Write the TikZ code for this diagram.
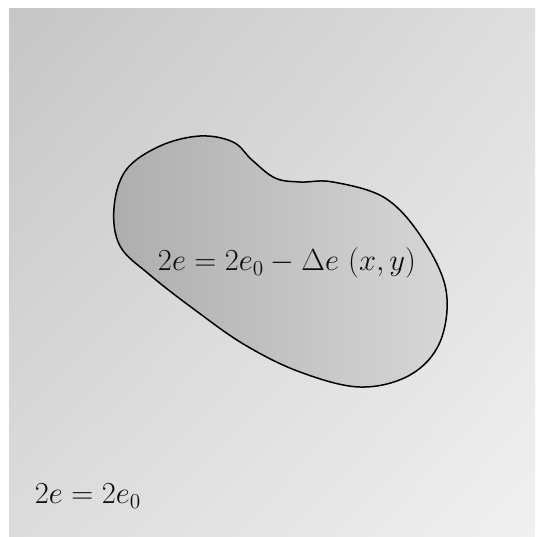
\documentclass[tikz,border=0pt]{standalone}
\usepackage{graphicx}
\usepackage{amsmath}
\usetikzlibrary{shadings}
\definecolor{bgUL}{RGB}{198,198,198}
\definecolor{bgUR}{RGB}{222,222,222}
\definecolor{bgLL}{RGB}{220,220,220}
\definecolor{bgLR}{RGB}{240,240,240}
\definecolor{blobL}{RGB}{172,172,172}
\definecolor{blobR}{RGB}{216,216,216}
\newcommand{\biglbl}[1]{\scalebox{1.77}{\fontsize{17.28}{20}\selectfont #1}}
\begin{document}
\begin{tikzpicture}[x=1pt,y=-1pt,
  lbl/.style={inner sep=0pt, text=black!95}]
\useasboundingbox (0,0) rectangle (535,537);
\fill[white] (0,0) rectangle (535,537);
\shade[upper left=bgUL, upper right=bgUR, lower left=bgLL, lower right=bgLR]
  (9,9) rectangle (535,537);
\path[save path=\blob] plot[smooth cycle, tension=0.6] coordinates {
 (114,208) (126,170) (160,146) (200,136) (233,142) (252,160) (275,178) (300,182) (333,182)
 (385,198) (422,238) (446,290) (440,342) (410,375) (360,387) (300,372) (245,345) (195,310)
 (150,275) (120,246)};
\begin{scope}
\clip[use path=\blob];
\shade[left color=blobL, right color=blobR]
  (100,120) rectangle (460,400);
\end{scope}
\draw[line width=1.5pt, use path=\blob];
\node[lbl] (inner) at (287,263) {\biglbl{$2e = 2e_0 - \Delta e\ (x, y)$}};
\node[lbl] (outer) at (88,496) {\biglbl{$2e = 2e_0$}};
\end{tikzpicture}
\end{document}
